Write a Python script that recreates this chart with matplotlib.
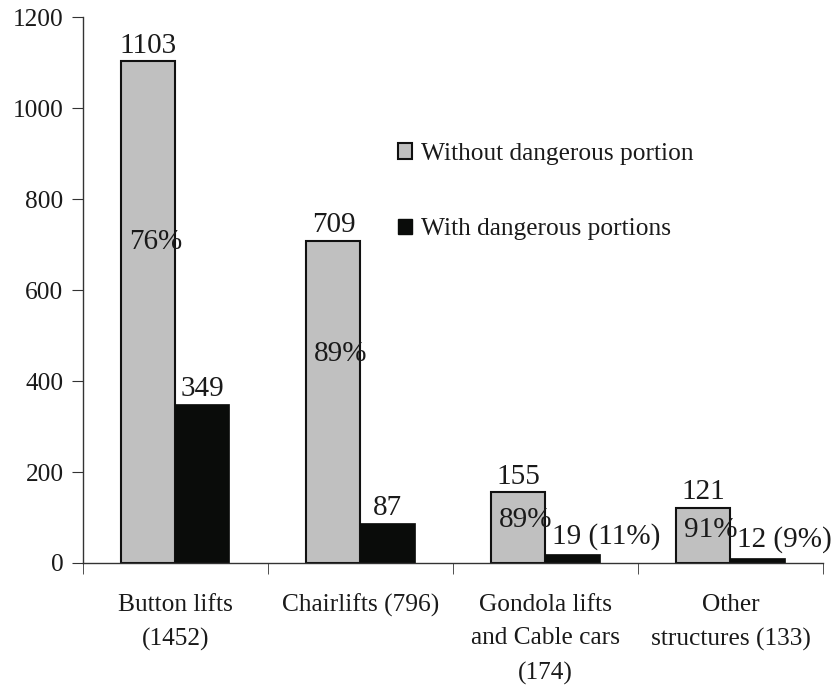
import matplotlib.pyplot as plt
import numpy as np
from matplotlib.patches import Patch

# data
categories = ['Button lifts\n(1452)', 'Chairlifts (796)',
              'Gondola lifts\nand Cable cars\n(174)', 'Other\nstructures (133)']
without_dp = [1103, 709, 155, 121]
with_dp = [349, 87, 19, 12]
pct_without = ['76%', '89%', '89%', '91%']
pct_with_labels = ['349', '87', '19 (11%)', '12 (9%)']
pct_y = [705, 460, 95, 72]

plt.rcParams['font.family'] = ['Liberation Serif', 'DejaVu Serif']
plt.rcParams['font.size'] = 18.3
txt_color = '#1a1a1a'
ann_size = 21

fig = plt.figure(figsize=(8.33, 6.87), dpi=100)
ax = fig.add_axes([0.0996, 0.1805, 0.8884, 0.7945])

x = np.arange(len(categories))
w = 0.292
ax.bar(x, without_dp, width=-w, align='edge', color='#c0c0c0',
       edgecolor='#111111', linewidth=1.5)
ax.bar(x, with_dp, width=w, align='edge', color='#0a0c0a',
       edgecolor='#0a0c0a', linewidth=0.5)

# values on top of gray bars
for xi, v in zip(x, without_dp):
    ax.text(xi - w / 2, v + 6, str(v), ha='center', va='bottom',
            color=txt_color, fontsize=ann_size)

# percentages inside gray bars
for xi, p, py in zip(x, pct_without, pct_y):
    ax.text(xi - w + 0.04, py, p, ha='left', va='center',
            color=txt_color, fontsize=ann_size)

# labels of black bars
for i, (xi, v, lab) in enumerate(zip(x, with_dp, pct_with_labels)):
    if i < 2:
        ax.text(xi + w / 2, v + 6, lab, ha='center', va='bottom',
                color=txt_color, fontsize=ann_size)
    else:
        ax.text(xi + 0.035, v + 40, lab, ha='left', va='center',
                color=txt_color, fontsize=ann_size)

ax.set_xlim(-0.5, 3.5)
ax.set_ylim(0, 1200)
ax.set_yticks(range(0, 1201, 200))
ax.set_xticks(x)
ax.set_xticklabels(categories, linespacing=1.7, color=txt_color)
ax.set_xticks(np.arange(-0.5, 4, 1), minor=True)
ax.tick_params(axis='x', which='major', length=0, pad=22)
ax.tick_params(axis='x', which='minor', length=8, direction='out', color='#333333')
ax.tick_params(axis='y', length=8, direction='out', color='#333333',
               labelcolor=txt_color, pad=6)

for s in ['top', 'right']:
    ax.spines[s].set_visible(False)
for s in ['left', 'bottom']:
    ax.spines[s].set_color('#333333')
    ax.spines[s].set_linewidth(1.0)

handles = [Patch(facecolor='#c0c0c0', edgecolor='#111111', linewidth=1.5),
           Patch(facecolor='#0a0c0a', edgecolor='#0a0c0a')]
fig.legend(handles, ['Without dangerous portion', 'With dangerous portions'],
           loc='upper left', bbox_to_anchor=(0.478, 0.792), frameon=False,
           borderpad=0, borderaxespad=0, handlelength=0.55, handleheight=0.55,
           handletextpad=0.35, labelspacing=2.1, labelcolor=txt_color)

plt.savefig('out.png', dpi=100, facecolor='white')
